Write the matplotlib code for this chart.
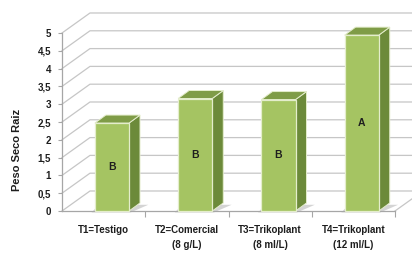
import numpy as np
import matplotlib
matplotlib.use("Agg")
import matplotlib.pyplot as plt

plt.rcParams['font.family'] = ['Liberation Sans', 'DejaVu Sans']

categories = ["T1=Testigo", "T2=Comercial\n(8 g/L)",
              "T3=Trikoplant\n(8 ml/L)", "T4=Trikoplant\n(12 ml/L)"]
peso_seco = [2.47, 3.16, 3.13, 4.94]
letras = ["B", "B", "B", "A"]
yticks = np.arange(0, 5.01, 0.5)
ytick_labels = [("%g" % v).replace(".", ",") for v in yticks]

# fake 3d depth (data units)
DX, DY = 0.336, 0.562       # walls
BDX, BDY = 0.132, 0.225     # bars
bar_w = 0.41
bar_shift = 0.1

grid_col = "#c6c6c6"
front_col = "#a5c462"
side_col = "#6c8a3a"
top_col = "#7f9c47"
edge_col = "#e4edcc"
text_col = "#1e1e1e"

fig = plt.figure(figsize=(4.12, 2.57), dpi=100)
ax = fig.add_axes([0, 0, 1, 1])
ax.set_xlim(-62 / 83.25, 350 / 83.25)
ax.set_ylim(-46 / 35.6, 211 / 35.6)
xmax = ax.get_xlim()[1]

# walls and floor gridlines
for v in yticks:
    ax.plot([0, DX, xmax], [v, v + DY, v + DY], color=grid_col, lw=0.9, zorder=0)
ax.plot([len(categories), len(categories) + DX], [0, DY], color=grid_col, lw=0.9, zorder=0)

x = np.arange(len(categories)) + 0.5 + bar_shift
for xi, v, letra in zip(x, peso_seco, letras):
    x0, x1 = xi - bar_w / 2, xi + bar_w / 2
    # shadow
    ax.fill([x0 - 0.04, x1 + 0.02, x1 + BDX + 0.1, x0 + 0.05],
            [-0.04, -0.04, BDY - 0.05, BDY - 0.05],
            color="#d4d4d4", zorder=2, lw=0)
    ax.bar(xi, v, width=bar_w, color=front_col, edgecolor=edge_col,
           linewidth=0.9, zorder=4)
    ax.fill([x1, x1 + BDX, x1 + BDX, x1], [0, BDY, v + BDY, v],
            facecolor=side_col, edgecolor=edge_col, lw=0.7, zorder=3)
    ax.fill([x0, x0 + BDX, x1 + BDX, x1], [v, v + BDY, v + BDY, v],
            facecolor=top_col, edgecolor=edge_col, lw=0.7, zorder=3)
    ax.text(xi, v / 2, letra, ha="center", va="center", fontsize=7.5,
            fontweight="bold", color=text_col, zorder=5)

for s in ["top", "right"]:
    ax.spines[s].set_visible(False)
ax.spines["left"].set_position(("data", 0))
ax.spines["bottom"].set_position(("data", 0))
ax.spines["left"].set_bounds(0, 5)
ax.spines["bottom"].set_bounds(0, len(categories))
for s in ["left", "bottom"]:
    ax.spines[s].set_color("#a6a6a6")
    ax.spines[s].set_linewidth(0.9)

ax.set_yticks(yticks)
ax.set_yticklabels(ytick_labels, fontsize=7, fontweight="bold", color=text_col)
ax.tick_params(axis="y", direction="out", length=3, width=0.8, color="#a6a6a6", pad=5)

ax.set_xticks(np.arange(1, len(categories) + 1))
ax.set_xticklabels([])
ax.tick_params(axis="x", which="major", direction="out", length=4, width=0.8, color="#a6a6a6")
ax.set_xticks(np.arange(len(categories)) + 0.5, minor=True)
ax.set_xticklabels(categories, minor=True, fontsize=7, fontweight="bold",
                   color=text_col, linespacing=1.65)
ax.tick_params(axis="x", which="minor", length=0, pad=10)

ax.set_ylabel("Peso Seco Raiz", fontsize=8, fontweight="bold", color=text_col)
ax.yaxis.set_label_coords(22 / 412, 1 - 150 / 257)

fig.savefig("out.png", dpi=100)
